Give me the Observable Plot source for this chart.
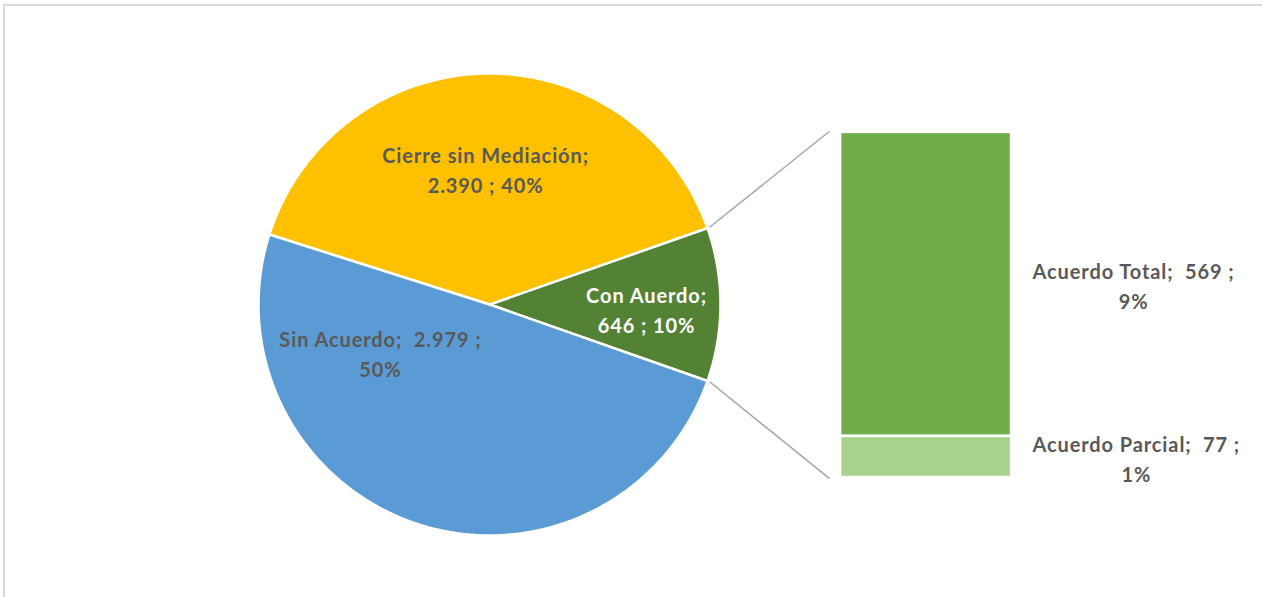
<!DOCTYPE html>
<html>
<head>
<meta charset="utf-8">
<script src="https://cdn.jsdelivr.net/npm/d3@7"></script>
<script src="https://cdn.jsdelivr.net/npm/@observablehq/plot@0.6"></script>
<style>
  html, body { margin: 0; padding: 0; background: #fff; overflow: hidden; }
  #wrap { position: relative; width: 1262px; height: 597px; }
  #border { position: absolute; left: 3px; top: 4px; width: 1300px; height: 640px;
            border: 2px solid #d9d9d9; box-sizing: border-box; pointer-events: none; }
  svg { display: block; }
</style>
</head>
<body>
<div id="wrap"><div id="chart"></div><div id="border"></div></div>
<script>
// ---- data ----
const categories = ["Con Auerdo", "Cierre sin Mediación", "Sin Acuerdo"];
const values = [646, 2390, 2979];
const percents = [10, 40, 50];
const subCategories = ["Acuerdo Total", "Acuerdo Parcial"];
const subValues = [569, 77];
const subPercents = [9, 1];
const colors = ["#548235", "#FFC000", "#5B9BD5"];
const subColors = ["#70AD47", "#A9D18E"];

// ---- layout (chart units: pie radius = 1) ----
const W = 1262, H = 597, CX = 489, CY = 304, R = 231;
const barX1 = 1.52, barX2 = 2.26, barTop = 0.745, barBottom = -0.749;
const lineEndX = 1.472;
const pieLabelPos = [[0.68, -0.017], [-0.017, 0.589], [-0.472, -0.208]];
const subLabelX = [2.788, 2.80];

const fmt = n => n >= 1000 ? d3.format(",")(n).replace(/,/g, ".") : String(n);
const total = d3.sum(values);
const theta0 = values[0] / total * 2 * Math.PI;

// slices: start with "Con Auerdo" centered on the right, counter-clockwise
let a = -theta0 / 2;
const slices = values.map((v, i) => {
  const a0 = a, a1 = a + v / total * 2 * Math.PI;
  a = a1;
  const pts = [{x: 0, y: 0}];
  const n = Math.max(2, Math.ceil((a1 - a0) / (Math.PI / 360)));
  for (let k = 0; k <= n; k++) {
    const t = a0 + (a1 - a0) * k / n;
    pts.push({x: Math.cos(t), y: Math.sin(t)});
  }
  pts.push({x: 0, y: 0});
  return {i, a0, a1, pts};
});

const pieLabels = [
  `${categories[0]};\n${fmt(values[0])} ; ${percents[0]}%`,
  `${categories[1]};\n${fmt(values[1])} ; ${percents[1]}%`,
  `${categories[2]};  ${fmt(values[2])} ;\n${percents[2]}%`
];
const pieLabelData = pieLabels.map((t, i) => ({text: t, x: pieLabelPos[i][0], y: pieLabelPos[i][1], fill: i === 0 ? "#fff" : "#595959"}));

// bar segments
const conTotal = d3.sum(subValues);
const kUnit = (barTop - barBottom) / conTotal;
let cum = 0;
const bars = subValues.map((v, i) => {
  const y1 = barTop - cum * kUnit;
  cum += v;
  const y2 = barTop - cum * kUnit;
  return {y1, y2, fill: subColors[i], label: `${subCategories[i]};  ${fmt(v)} ;\n${subPercents[i]}%`, lx: subLabelX[i], ly: (y1 + y2) / 2};
});

const rEdge = 1.01;
const connectors = [
  {x1: rEdge * Math.cos(theta0 / 2), y1: rEdge * Math.sin(theta0 / 2), x2: lineEndX, y2: barTop + 0.005},
  {x1: rEdge * Math.cos(-theta0 / 2), y1: rEdge * Math.sin(-theta0 / 2), x2: lineEndX, y2: barBottom - 0.005}
];

const font = "Lato, 'Open Sans', sans-serif";

const chart = Plot.plot({
  width: W, height: H,
  margin: 0,
  x: {domain: [-CX / R, (W - CX) / R], range: [0, W], axis: null},
  y: {domain: [-(H - CY) / R, CY / R], range: [H, 0], axis: null},
  style: {fontFamily: font, background: "transparent", overflow: "visible", letterSpacing: "0.9px"},
  marks: [
    ...slices.map(s => Plot.line(s.pts, {x: "x", y: "y", fill: colors[s.i], stroke: "#fff", strokeWidth: 2.5, strokeLinejoin: "round", curve: "linear"})),
    Plot.link(connectors, {x1: "x1", y1: "y1", x2: "x2", y2: "y2", stroke: "#a6a6a6", strokeWidth: 1.5}),
    Plot.rect(bars, {x1: barX1, x2: barX2, y1: "y1", y2: "y2", fill: "fill", stroke: "#fff", strokeWidth: 2.5}),
    Plot.text(pieLabelData, {x: "x", y: "y", text: "text", fill: "fill", fontSize: 20, fontWeight: "bold", lineHeight: 1.5, textAnchor: "middle"}),
    Plot.text(bars, {x: "lx", y: "ly", text: "label", fill: "#595959", fontSize: 20, fontWeight: "bold", lineHeight: 1.5, textAnchor: "middle"})
  ]
});
document.getElementById("chart").appendChild(chart);
</script>
</body>
</html>
